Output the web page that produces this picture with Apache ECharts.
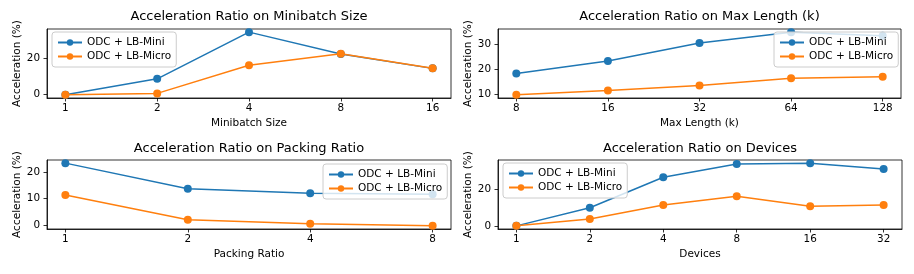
<!DOCTYPE html>
<html>
<head>
<meta charset="utf-8">
<script src="https://cdn.jsdelivr.net/npm/echarts@6/dist/echarts.min.js"></script>
<style>
html,body{margin:0;padding:0;background:#fff;}
#c{width:914px;height:274px;}
</style>
</head>
<body>
<div id="c"></div>
<script>
// ---- data ----
const seriesNames = ['ODC + LB-Mini', 'ODC + LB-Micro'];

const titles = ['Acceleration Ratio on Minibatch Size', 'Acceleration Ratio on Max Length (k)', 'Acceleration Ratio on Packing Ratio', 'Acceleration Ratio on Devices'];
const xNames = ['Minibatch Size', 'Max Length (k)', 'Packing Ratio', 'Devices'];
const yName = 'Acceleration (%)';

const minibatchCats = ['1', '2', '4', '8', '16'];
const minibatchMini = [0.0, 8.6, 34.0, 22.1, 14.3];
const minibatchMicro = [-0.1, 0.7, 16.0, 22.3, 14.4];

const maxLenCats = ['8', '16', '32', '64', '128'];
const maxLenMini = [18.4, 23.4, 30.6, 34.9, 33.5];
const maxLenMicro = [9.9, 11.6, 13.6, 16.5, 17.1];

const packingCats = ['1', '2', '4', '8'];
const packingMini = [23.5, 13.7, 12.0, 11.6];
const packingMicro = [11.4, 1.9, 0.4, -0.4];

const devicesCats = ['1', '2', '4', '8', '16', '32'];
const devicesMini = [0.0, 10.0, 26.9, 34.2, 34.7, 31.4];
const devicesMicro = [0.1, 3.8, 11.5, 16.4, 10.9, 11.6];

const yTicks1 = [0, 20];
const yTicks2 = [10, 20, 30];
const yTicks3 = [0, 10, 20];
const yTicks4 = [0, 20];

// ---- layout ----
const panels = [
  {cats: minibatchCats, mini: minibatchMini, micro: minibatchMicro, yt: yTicks1, titleY: 17,
   grid: {left: 47, top: 29, width: 404, height: 69}, legend: {left: 52, top: 32}},
  {cats: maxLenCats, mini: maxLenMini, micro: maxLenMicro, yt: yTicks2, titleY: 17,
   grid: {left: 498, top: 29, width: 403, height: 69}, legend: {left: 774, top: 32}},
  {cats: packingCats, mini: packingMini, micro: packingMicro, yt: yTicks3, titleY: 149,
   grid: {left: 47, top: 160, width: 404, height: 69}, legend: {left: 323, top: 164}},
  {cats: devicesCats, mini: devicesMini, micro: devicesMicro, yt: yTicks4, titleY: 149,
   grid: {left: 498, top: 160, width: 404, height: 69}, legend: {left: 503, top: 163}}
];

const FONT = 'DejaVu Sans';
const colors = ['#1f77b4', '#ff7f0e'];

const option = {
  animation: false,
  backgroundColor: '#fff',
  textStyle: {fontFamily: FONT},
  title: [], grid: [], xAxis: [], yAxis: [], series: [], legend: []
};

panels.forEach((p, i) => {
  const n = p.cats.length;
  const all = p.mini.concat(p.micro);
  const dmin = Math.min(...all), dmax = Math.max(...all);
  const m = (dmax - dmin) * 0.05;
  const xm = (n - 1) * 0.05;
  option.grid.push(Object.assign({show: true, borderColor: '#000', borderWidth: 0.8, backgroundColor: 'transparent', containLabel: false}, p.grid));
  option.title.push({
    text: titles[i], left: p.grid.left + p.grid.width / 2, top: p.titleY,
    textAlign: 'center', textVerticalAlign: 'middle',
    padding: 0,
    textStyle: {fontFamily: FONT, fontSize: 13, fontWeight: 'normal', color: '#000'}
  });
  const ticks = p.cats.map((_, k) => k);
  option.xAxis.push({
    type: 'value', gridIndex: i, min: -xm, max: (n - 1) + xm,
    name: xNames[i], nameLocation: 'middle', nameGap: 20,
    nameTextStyle: {fontFamily: FONT, fontSize: 10.5, color: '#000'},
    axisLine: {show: true, onZero: false, lineStyle: {color: '#000', width: 0.8}},
    axisTick: {show: true, length: 3.5, inside: false, customValues: ticks, lineStyle: {color: '#000', width: 0.8}},
    axisLabel: {show: true, customValues: ticks, margin: 5, fontFamily: FONT, fontSize: 10.4, color: '#000',
      formatter: v => p.cats[Math.round(v)]},
    splitLine: {show: false}
  });
  option.yAxis.push({
    type: 'value', gridIndex: i, min: dmin - m, max: dmax + m,
    name: yName, nameLocation: 'middle', nameGap: 23,
    nameTextStyle: {fontFamily: FONT, fontSize: 10.5, color: '#000'},
    axisLine: {show: true, onZero: false, lineStyle: {color: '#000', width: 0.8}},
    axisTick: {show: true, length: 3.5, inside: false, customValues: p.yt, lineStyle: {color: '#000', width: 0.8}},
    axisLabel: {show: true, customValues: p.yt, margin: 7, fontFamily: FONT, fontSize: 10.4, color: '#000'},
    splitLine: {show: false}
  });
  [p.mini, p.micro].forEach((vals, s) => {
    option.series.push({
      type: 'line', name: seriesNames[s], xAxisIndex: i, yAxisIndex: i,
      data: vals.map((v, k) => [k, v]),
      symbol: 'circle', symbolSize: 8, showSymbol: true,
      itemStyle: {color: colors[s]},
      lineStyle: {color: colors[s], width: 1.5},
      z: 2 + s
    });
  });
  option.legend.push({
    data: seriesNames, orient: 'vertical', left: p.legend.left, top: p.legend.top,
    selectedMode: false, padding: [5, 5, 5, 5], itemGap: 3, itemWidth: 24, itemHeight: 8,
    borderColor: '#ccc', borderWidth: 1, borderRadius: 3, backgroundColor: 'rgba(255,255,255,0.8)',
    textStyle: {fontFamily: FONT, fontSize: 10.5, color: '#000'}, z: 10
  });
});

const chart = echarts.init(document.getElementById('c'), null, {renderer: 'canvas'});
chart.setOption(option);
</script>
</body>
</html>
